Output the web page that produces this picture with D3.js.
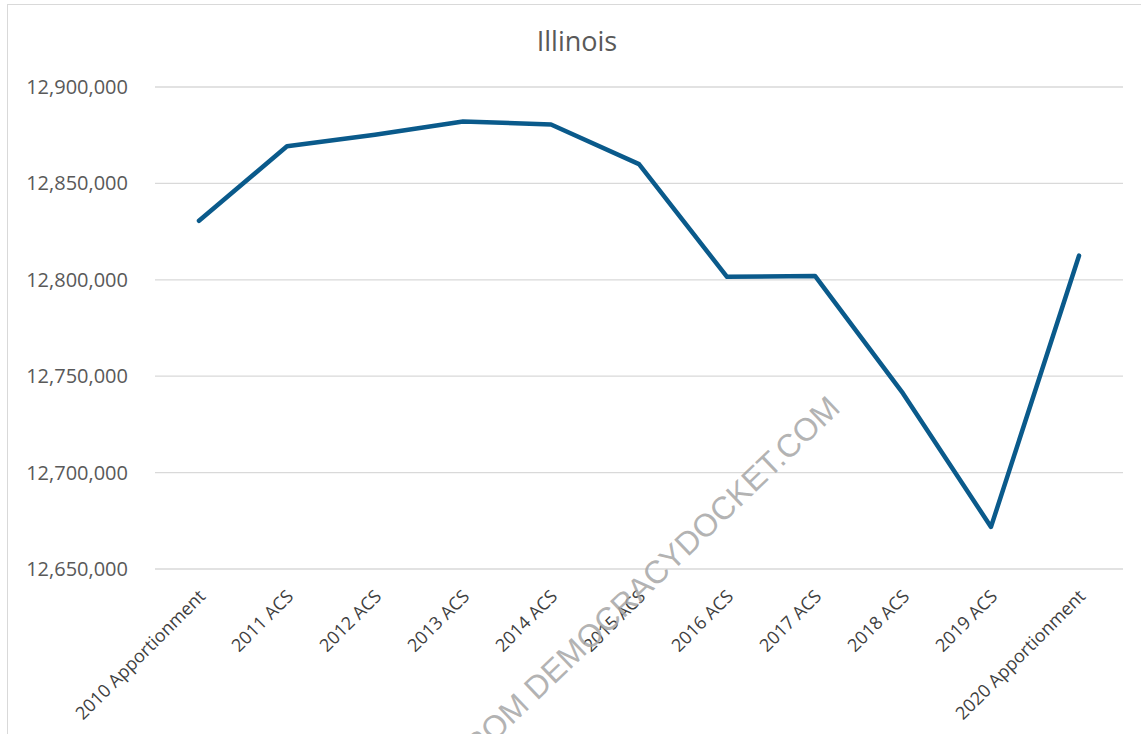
<!DOCTYPE html>
<html>
<head>
<meta charset="utf-8">
<script src="https://cdn.jsdelivr.net/npm/d3@7"></script>
<style>
  body { margin: 0; background: #fff; }
  svg { display: block; }
</style>
</head>
<body>
<script>
const categories = ["2010 Apportionment", "2011 ACS", "2012 ACS", "2013 ACS", "2014 ACS", "2015 ACS",
                    "2016 ACS", "2017 ACS", "2018 ACS", "2019 ACS", "2020 Apportionment"];
const population = [12830632, 12869257, 12875255, 12882135, 12880580, 12859995,
                    12801539, 12802023, 12741080, 12671821, 12812508];
const yTicks = [12650000, 12700000, 12750000, 12800000, 12850000, 12900000];

const W = 1141, H = 734;
const margin = { top: 87, right: 18, bottom: 165, left: 155 },
      width = W - margin.left - margin.right,
      height = H - margin.top - margin.bottom;

const svg = d3.select("body").append("svg")
    .attr("width", W)
    .attr("height", H);

// chart frame
svg.append("rect")
    .attr("x", 7.5).attr("y", 4.5)
    .attr("width", 1200).attr("height", 900)
    .attr("fill", "#fff")
    .attr("stroke", "#d9d9d9");

svg.append("text")
    .attr("x", 577)
    .attr("y", 51)
    .attr("text-anchor", "middle")
    .attr("font-family", "Open Sans")
    .attr("font-size", 27)
    .attr("fill", "#595959")
    .text("Illinois");

const g = svg.append("g")
    .attr("transform", `translate(${margin.left},${margin.top})`);

const x = d3.scaleBand()
    .domain(categories)
    .range([0, width]);

const y = d3.scaleLinear()
    .domain([12650000, 12900000])
    .range([height, 0]);

const fmt = d3.format(",");

// gridlines
g.append("g")
  .selectAll("line")
  .data(yTicks)
  .enter().append("line")
    .attr("x1", 0).attr("x2", width)
    .attr("y1", d => y(d)).attr("y2", d => y(d))
    .attr("stroke", "#d9d9d9")
    .attr("stroke-width", 1.3);

// y labels
const yAxis = g.append("g")
    .call(d3.axisLeft(y).tickValues(yTicks).tickFormat(fmt).tickSize(0).tickPadding(27));
yAxis.select(".domain").remove();
yAxis.selectAll("text")
    .attr("font-family", "Open Sans")
    .attr("font-size", 20)
    .attr("fill", "#595959");

// x labels
g.append("g")
  .selectAll("text")
  .data(categories)
  .enter().append("text")
    .attr("transform", d => `translate(${x(d) + x.bandwidth() / 2 + 3},${height + 24}) rotate(-45)`)
    .attr("text-anchor", "end")
    .attr("dy", "0.35em")
    .attr("font-family", "Open Sans")
    .attr("font-size", 18)
    .attr("fill", "#404040")
    .text(d => d);

// watermark
svg.append("text")
    .attr("transform", "translate(834,402) rotate(-43.7)")
    .attr("text-anchor", "end")
    .attr("dy", "0.35em")
    .attr("font-family", "Liberation Sans")
    .attr("font-size", 32)
    .attr("fill", "#a6a6a6")
    .attr("fill-opacity", 0.85)
    .text("RETRIEVED FROM DEMOCRACYDOCKET.COM");

const line = d3.line()
    .x((d, i) => x(categories[i]) + x.bandwidth() / 2)
    .y(d => y(d));

g.append("path")
    .datum(population)
    .attr("fill", "none")
    .attr("stroke", "#0a5a8b")
    .attr("stroke-width", 4.5)
    .attr("stroke-linejoin", "round")
    .attr("stroke-linecap", "round")
    .attr("d", line);
</script>
</body>
</html>
